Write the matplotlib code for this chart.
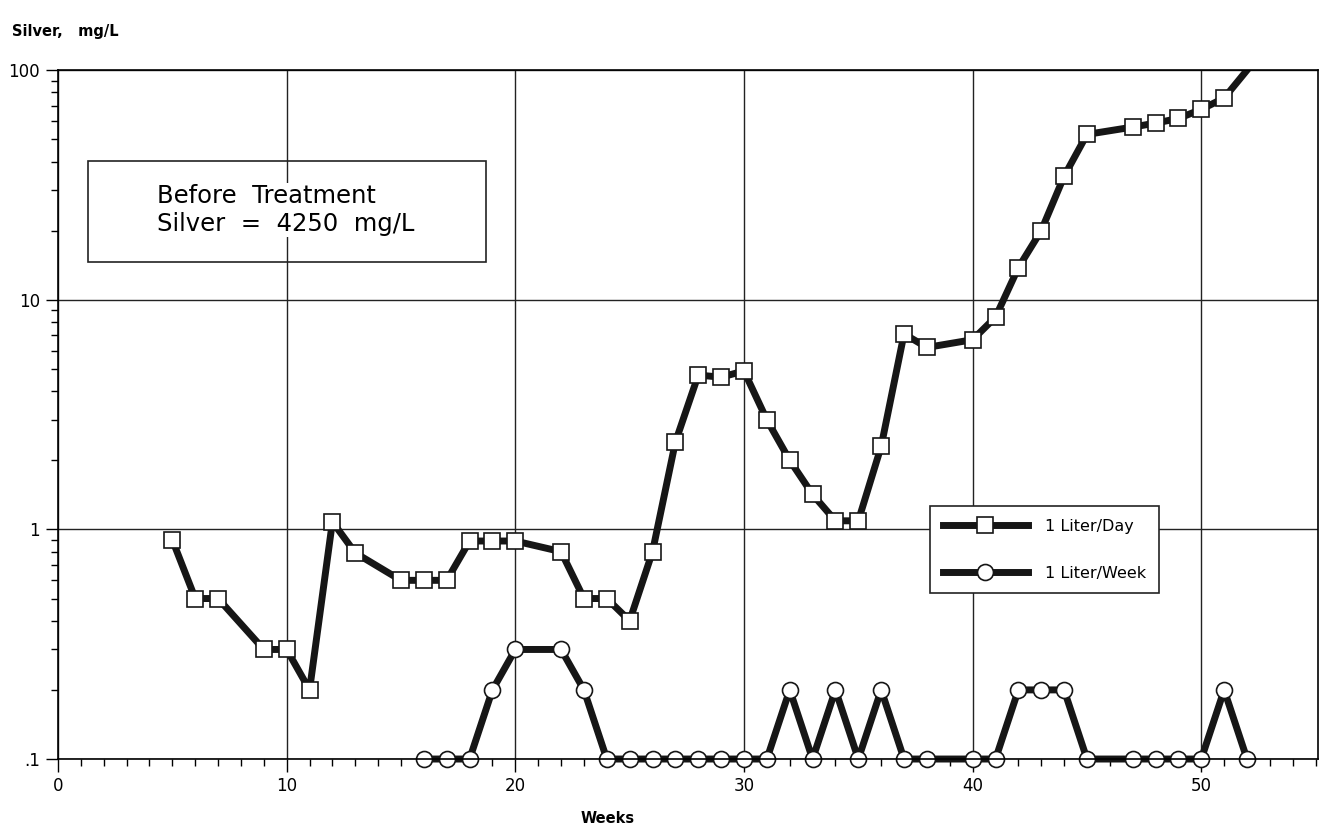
import numpy as np
import matplotlib.pyplot as plt
from matplotlib.patches import Rectangle
from matplotlib.ticker import FixedLocator, MultipleLocator, LogLocator, NullFormatter

# 1 Liter/Day series (weeks, mg/L)
day_weeks = [5, 6, 7, 9, 10, 11, 12, 13, 15, 16, 17, 18, 19, 20, 22, 23, 24, 25,
             26, 27, 28, 29, 30, 31, 32, 33, 34, 35, 36, 37, 38, 40, 41, 42, 43,
             44, 45, 47, 48, 49, 50, 51, 52]
day_silver = [0.9, 0.5, 0.5, 0.3, 0.3, 0.2, 1.08, 0.79, 0.6, 0.6, 0.6, 0.89, 0.89,
              0.89, 0.8, 0.5, 0.5, 0.4, 0.8, 2.4, 4.7, 4.6, 4.9, 3.0, 2.0, 1.42,
              1.09, 1.09, 2.3, 7.1, 6.2, 6.7, 8.4, 13.8, 20, 34.5, 52.5, 56.5,
              58.8, 61.6, 67.5, 75.6, 100]

# 1 Liter/Week series
week_weeks = [16, 17, 18, 19, 20, 22, 23, 24, 25, 26, 27, 28, 29, 30, 31, 32, 33,
              34, 35, 36, 37, 38, 40, 41, 42, 43, 44, 45, 47, 48, 49, 50, 51, 52]
week_silver = [0.1, 0.1, 0.1, 0.2, 0.3, 0.3, 0.2, 0.1, 0.1, 0.1, 0.1, 0.1, 0.1,
               0.1, 0.1, 0.2, 0.1, 0.2, 0.1, 0.2, 0.1, 0.1, 0.1, 0.1, 0.2, 0.2,
               0.2, 0.1, 0.1, 0.1, 0.1, 0.1, 0.2, 0.1]

y_ticks = [0.1, 1, 10, 100]
y_tick_labels = ['.1', '1', '10', '100']
x_ticks = [0, 10, 20, 30, 40, 50]

fig = plt.figure(figsize=(13.22, 8.33), dpi=100)
ax = fig.add_axes([0.0439, 0.0888, 0.953, 0.827])

line_kw = dict(color='#161616', linewidth=5, markersize=11.5,
               markerfacecolor='white', markeredgecolor='#161616', markeredgewidth=1.2)
ax.plot(day_weeks, day_silver, marker='s', label='1 Liter/Day',
        markevery=list(range(len(day_weeks) - 1)), **line_kw)
ax.plot(week_weeks, week_silver, marker='o', label='1 Liter/Week', clip_on=False, **line_kw)

ax.set_yscale('log')
ax.set_xlim(0, 55.1)
ax.set_ylim(0.1, 100)

ax.yaxis.set_major_locator(FixedLocator(y_ticks))
ax.set_yticklabels(y_tick_labels)
ax.yaxis.set_minor_locator(LogLocator(base=10, subs=np.arange(2, 10)))
ax.yaxis.set_minor_formatter(NullFormatter())
ax.set_xticks(x_ticks)
ax.xaxis.set_minor_locator(MultipleLocator(1))

ax.tick_params(which='major', direction='out', length=9, width=1, labelsize=12, pad=4)
ax.tick_params(which='minor', direction='out', length=5, width=1)
ax.grid(True, which='major', color='#222222', linewidth=1)
ax.set_axisbelow(True)
for s in ax.spines.values():
    s.set_linewidth(1.2)

# box with the starting concentration
ax.add_patch(Rectangle((0.0238, 0.721), 0.316, 0.147, transform=ax.transAxes,
                       fill=False, edgecolor='#222222', linewidth=1.2, zorder=3))
ax.text(0.0786, 0.797, 'Before  Treatment\nSilver  =  4250  mg/L', transform=ax.transAxes,
        ha='left', va='center', fontsize=17.5, linespacing=1.2, zorder=4,
        bbox=dict(facecolor='white', edgecolor='none', pad=1))

leg = ax.legend(loc='upper left', bbox_to_anchor=(0.686, 0.379), fontsize=11.5,
                handlelength=5.3, labelspacing=2.0, handletextpad=1.1,
                borderpad=0.8, fancybox=False, framealpha=1, edgecolor='#222222')
leg.get_frame().set_linewidth(1.2)

fig.text(0.009, 0.962, 'Silver,   mg/L', fontsize=10.5, fontweight='bold', ha='left', va='center')
fig.text(0.46, 0.008, 'Weeks', fontsize=10.5, fontweight='bold', ha='center', va='bottom')

fig.savefig('out.png', dpi=100)
